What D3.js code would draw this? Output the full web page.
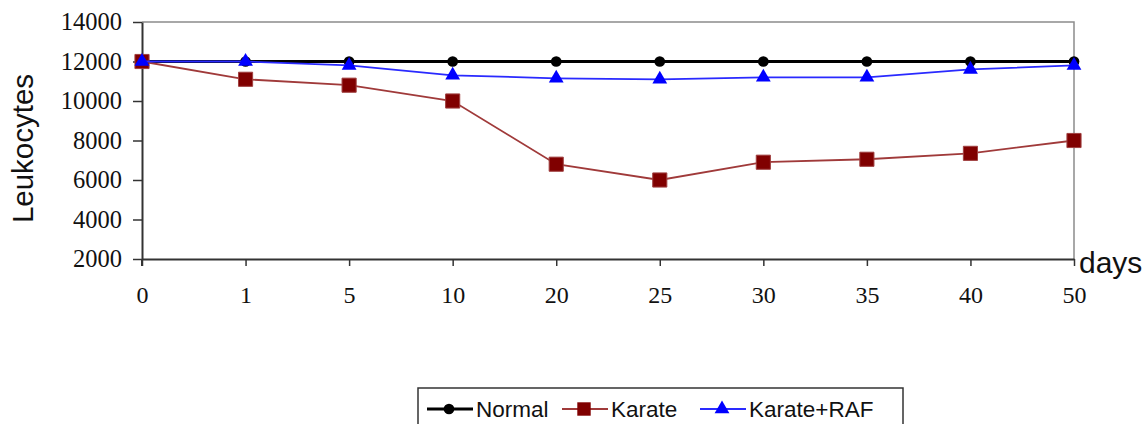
<!DOCTYPE html>
<html>
<head>
<meta charset="utf-8">
<script src="https://cdn.jsdelivr.net/npm/d3@7"></script>
<style>
  body { margin: 0; background: #fff; }
  svg { display: block; }
</style>
</head>
<body>
<div id="chart"></div>
<script>
// data
var days = ["0", "1", "5", "10", "20", "25", "30", "35", "40", "50"];
var normal = [12000, 12000, 12000, 12000, 12000, 12000, 12000, 12000, 12000, 12000];
var karate = [12000, 11100, 10800, 10000, 6800, 6000, 6900, 7050, 7350, 8000];
var karateRaf = [12000, 12000, 11800, 11300, 11150, 11100, 11200, 11200, 11600, 11800];
var yTicks = [2000, 4000, 6000, 8000, 10000, 12000, 14000];

function drawChart(containerSelector) {
	var width = 1147, height = 424;
	var margin = {top: 22, right: 73, bottom: 165, left: 142};

	var svg = d3.select(containerSelector).append("svg")
		.attr("width", width)
		.attr("height", height);

	// set the ranges
	var x = d3.scalePoint().domain(days).range([margin.left, width - margin.right]);
	var y = d3.scaleLinear().domain([2000, 14000]).range([height - margin.bottom, margin.top]);

	// plot frame (top and right, grey)
	svg.append("path")
		.attr("d", "M" + x.range()[0] + "," + y(14000) + "H" + x.range()[1] + "V" + y(2000))
		.attr("fill", "none")
		.attr("stroke", "#8c8c8c")
		.attr("stroke-width", 1.5);

	// Y axis
	var yAxis = svg.append("g")
		.attr("transform", "translate(" + margin.left + ",0)")
		.call(d3.axisLeft(y).tickValues(yTicks).tickFormat(d3.format("d"))
			.tickSize(9).tickPadding(11).tickSizeOuter(0));
	yAxis.select(".domain").attr("stroke", "#333").attr("stroke-width", 2);
	yAxis.selectAll(".tick line").attr("stroke", "#333").attr("stroke-width", 1.5);
	yAxis.selectAll("text")
		.attr("font-family", "'Liberation Serif', serif")
		.attr("font-size", 24.5)
		.attr("fill", "#111");

	// X axis
	var xAxis = svg.append("g")
		.attr("transform", "translate(0," + y(2000) + ")")
		.call(d3.axisBottom(x).tickSize(7).tickPadding(20).tickSizeOuter(0));
	xAxis.select(".domain").attr("stroke", "#333").attr("stroke-width", 2);
	xAxis.selectAll(".tick line").attr("stroke", "#333").attr("stroke-width", 1.5);
	xAxis.selectAll("text")
		.attr("font-family", "'Liberation Serif', serif")
		.attr("font-size", 24)
		.attr("fill", "#111");

	// y axis extends down through the tick zone
	svg.append("line")
		.attr("x1", margin.left).attr("x2", margin.left)
		.attr("y1", y(2000)).attr("y2", y(2000) + 7)
		.attr("stroke", "#333").attr("stroke-width", 2);

	// axis titles
	svg.append("text")
		.attr("transform", "translate(33," + ((y(2000) + y(14000)) / 2 + 8) + ") rotate(-90)")
		.attr("text-anchor", "middle")
		.attr("font-family", "'Liberation Sans', Arial, sans-serif")
		.attr("font-size", 29.5)
		.attr("fill", "#111")
		.text("Leukocytes");

	svg.append("text")
		.attr("x", 1079)
		.attr("y", 273)
		.attr("font-family", "'Liberation Sans', Arial, sans-serif")
		.attr("font-size", 30)
		.attr("fill", "#111")
		.text("days");

	var series = [
		{name: "Normal", values: normal, line: "#000", width: 3, marker: "circle", fill: "#000"},
		{name: "Karate", values: karate, line: "#a03a3a", width: 1.8, marker: "square", fill: "#800000"},
		{name: "Karate+RAF", values: karateRaf, line: "#2a2aff", width: 1.8, marker: "triangle", fill: "#0000ff"}
	];

	var symbols = {
		circle: d3.symbol().type(d3.symbolCircle).size(90),
		square: d3.symbol().type(d3.symbolSquare).size(200),
		triangle: d3.symbol().type(d3.symbolTriangle).size(95)
	};

	var valueline = d3.line()
		.x(function(d, i) { return x(days[i]); })
		.y(function(d) { return y(d); });

	series.forEach(function(s) {
		svg.append("path")
			.datum(s.values)
			.attr("fill", "none")
			.attr("stroke", s.line)
			.attr("stroke-width", s.width)
			.attr("d", valueline);

		svg.selectAll(null)
			.data(s.values)
			.enter().append("path")
			.attr("transform", function(d, i) { return "translate(" + x(days[i]) + "," + y(d) + ")"; })
			.attr("d", symbols[s.marker])
			.attr("fill", s.fill)
			.attr("stroke", s.marker === "square" ? "#a04040" : "none")
			.attr("stroke-width", 1);
	});

	// legend
	var legend = svg.append("g");
	legend.append("rect")
		.attr("x", 418).attr("y", 388)
		.attr("width", 485).attr("height", 60)
		.attr("fill", "#fff")
		.attr("stroke", "#333")
		.attr("stroke-width", 1.5);

	var legendX = [427, 562, 700];
	series.forEach(function(s, i) {
		var lx = legendX[i], ly = 409;
		legend.append("line")
			.attr("x1", lx).attr("x2", lx + 46)
			.attr("y1", ly).attr("y2", ly)
			.attr("stroke", s.line)
			.attr("stroke-width", s.width);
		legend.append("path")
			.attr("transform", "translate(" + (lx + 22) + "," + ly + ")")
			.attr("d", s.marker === "square" ? d3.symbol().type(d3.symbolSquare).size(180)() : symbols[s.marker]())
			.attr("fill", s.fill);
		legend.append("text")
			.attr("x", lx + 49)
			.attr("y", ly + 8)
			.attr("font-family", "'Liberation Sans', Arial, sans-serif")
			.attr("font-size", 22.5)
			.attr("fill", "#111")
			.text(s.name);
	});
}

drawChart("#chart");
</script>
</body>
</html>
